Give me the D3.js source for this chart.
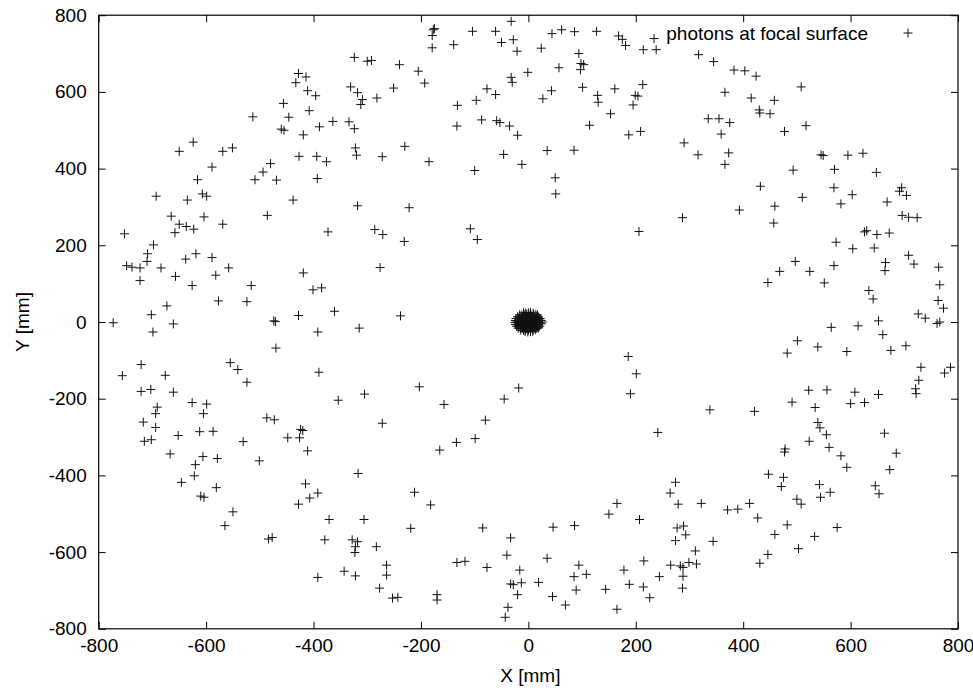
<!DOCTYPE html>
<html>
<head>
<meta charset="utf-8">
<script src="https://cdn.jsdelivr.net/npm/d3@7"></script>
<style>
  body { margin: 0; background: #fff; }
  svg text { font-family: "Liberation Sans", Arial, sans-serif; fill: #000; }
</style>
</head>
<body>
<svg id="plot" width="973" height="690"></svg>
<script>
// photons scattered onto the focal surface (ring), x / y in mm
const ringPoints = [
  [-428,648],[-414,639],[-433,624],[-411,603],[-456,570],[-408,551],[-446,534],[-513,535],[-460,503],[-455,500],
  [-419,488],[-427,432],[-624,469],[-650,445],[-569,445],[-551,454],[-589,404],[-480,413],[-494,391],[-509,371],
  [-469,370],[-616,371],[-607,334],[-599,328],[-693,328],[-635,318],[-438,318],[-665,276],[-604,274],[-486,278],
  [-396,590],[-394,432],[-393,374],[-389,509],[-364,523],[-334,522],[-324,504],[-331,613],[-318,598],[-309,580],
  [-312,567],[-282,584],[-251,610],[-324,690],[-300,680],[-292,682],[-240,671],[-205,654],[-193,623],[-177,762],
  [-175,765],[-179,747],[-179,715],[-139,723],[-104,758],[-61,758],[-32,784],[-50,729],[-28,736],[-21,706],
  [-1,651],[-32,638],[-30,625],[-77,608],[-61,593],[-97,578],[-132,565],[-133,511],[-87,527],[-59,525],
  [-53,520],[-35,511],[-20,487],[-230,458],[-322,454],[-320,435],[-376,418],[-272,431],[-185,418],[-46,437],
  [-12,411],[-100,395],[-318,303],[-222,298],
  [44,752],[62,762],[86,757],[127,758],[24,714],[57,663],[94,700],[98,674],[103,671],[97,658],
  [101,612],[43,603],[27,582],[129,591],[130,573],[161,608],[153,543],[114,513],[168,746],[175,737],
  [181,721],[214,710],[238,710],[234,739],[213,619],[199,591],[204,589],[195,566],[187,488],[209,497],
  [35,447],[85,448],[50,376],[51,334],[317,697],[345,679],[383,657],[403,655],[424,641],[366,599],
  [335,530],[355,530],[375,520],[359,490],[290,467],[316,436],[373,441],[366,411],[393,292],[287,272],
  [508,613],[415,584],[458,578],[430,553],[431,545],[450,543],[477,497],[517,512],[545,436],[549,434],
  [595,435],[623,440],[493,396],[570,398],[648,390],[432,354],[510,325],[459,302],[569,350],[603,332],
  [582,308],[668,313],[695,350],[691,341],[704,330],[696,278],[708,273],[724,272],
  [-650,255],[-637,249],[-623,242],[-658,233],[-569,255],[-752,230],[-698,201],[-709,178],[-710,158],[-748,147],
  [-738,143],[-723,141],[-723,108],[-684,141],[-657,119],[-638,164],[-619,178],[-589,168],[-558,141],[-582,122],
  [-626,95],[-516,95],[-577,55],[-524,53],[-673,42],[-702,19],[-661,-5],[-773,-2],[-699,-26],[-474,3],
  [-471,1],[-428,17],[-419,128],[-470,-68],[-721,-111],[-756,-140],[-676,-139],[-555,-106],[-541,-124],[-524,-157],
  [-721,-181],[-703,-176],[-661,-183],[-626,-210],[-599,-214],[-605,-239],[-691,-222],[-694,-239],[-717,-261],[-694,-275],
  [-487,-250],[-473,-255],
  [-401,84],[-385,89],[-373,235],[-286,241],[-271,228],[-231,210],[-108,243],[-95,215],[-276,142],[-361,28],
  [-238,16],[-315,-16],[-392,-26],[-390,-131],[-203,-169],[-305,-188],[-354,-204],[-157,-215],[-18,-172],[-45,-201],
  [-80,-256],[-272,-264],
  [206,236],[186,-90],[201,-135],[190,-187],[338,-229],
  [457,258],[626,235],[630,238],[649,228],[672,232],[573,208],[604,191],[644,193],[708,174],[718,151],
  [764,143],[766,97],[763,56],[773,36],[726,21],[739,10],[761,-4],[766,0],[665,155],[664,134],
  [634,82],[642,60],[497,158],[468,132],[524,132],[569,147],[446,103],[551,102],[652,3],[614,-10],
  [564,-14],[660,-33],[703,-62],[675,-74],[593,-77],[539,-65],[501,-49],[482,-81],[731,-118],[786,-118],
  [775,-133],[727,-152],[721,-174],[722,-187],[522,-178],[556,-177],[608,-183],[652,-189],[491,-209],[534,-223],
  [600,-213],[626,-210],[421,-233],[539,-262],
  [-715,-311],[-702,-307],[-652,-296],[-612,-286],[-587,-285],[-667,-344],[-606,-351],[-620,-372],[-579,-356],[-531,-312],
  [-501,-362],[-622,-401],[-646,-418],[-581,-432],[-610,-454],[-604,-457],[-550,-495],[-565,-531],[-484,-566],[-477,-562],
  [-448,-302],[-426,-302],[-424,-280],[-420,-283],[-411,-336],[-415,-422],[-407,-459],[-428,-475],
  [-165,-334],[-134,-314],[-99,-304],[-317,-395],[-392,-446],[-212,-444],[-182,-477],[-371,-515],[-306,-515],[-219,-538],
  [-85,-537],[-379,-568],[-328,-568],[-318,-573],[-322,-586],[-323,-601],[-283,-586],[-264,-634],[-264,-660],[-277,-694],
  [-253,-720],[-243,-718],[-392,-666],[-343,-650],[-322,-662],[-170,-711],[-170,-725],[-133,-627],[-118,-624],[-77,-640],
  [-33,-563],[-40,-608],[-16,-647],[-33,-683],[-28,-685],[-13,-680],[-20,-711],[-38,-744],[-43,-770],
  [241,-288],[274,-418],[264,-446],[279,-475],[322,-473],[371,-490],[390,-488],[165,-473],[150,-501],[207,-515],
  [46,-535],[86,-531],[277,-537],[289,-532],[293,-555],[274,-570],[344,-572],[311,-597],[35,-616],[94,-634],
  [85,-664],[108,-658],[19,-679],[89,-699],[45,-716],[69,-738],[144,-697],[165,-749],[178,-647],[188,-684],
  [215,-623],[214,-691],[226,-719],[244,-664],[265,-634],[283,-636],[288,-640],[299,-627],[313,-631],[288,-663],
  [287,-694],
  [543,-276],[555,-294],[523,-311],[560,-327],[478,-331],[477,-339],[582,-349],[593,-379],[663,-290],[685,-342],
  [673,-385],[447,-397],[475,-405],[471,-429],[542,-424],[544,-457],[562,-444],[646,-427],[653,-448],[500,-462],
  [508,-475],[412,-473],[427,-511],[482,-529],[459,-554],[575,-536],[533,-559],[503,-591],[446,-606],[431,-629]
];

// photons focused near the centre (the solid black spot)
const corePoints = [
  [-6,-25],[-1,-26],[4,-25],[8,-24],
  [-14,-21],[-9,-22],[-5,-21],[0,-21],[4,-22],[9,-21],[13,-20],
  [-19,-16],[-15,-17],[-11,-16],[-6,-16],[-2,-17],[3,-16],[7,-15],[12,-16],[16,-17],[19,-15],
  [-22,-11],[-18,-12],[-13,-11],[-9,-10],[-5,-11],[0,-12],[4,-11],[8,-10],[13,-11],[17,-12],[21,-11],
  [-24,-6],[-20,-7],[-15,-6],[-11,-5],[-7,-6],[-2,-7],[2,-6],[6,-5],[11,-6],[15,-7],[19,-6],[24,-5],
  [-25,-1],[-21,0],[-16,-1],[-12,-2],[-8,-1],[-3,0],[1,-1],[5,-2],[10,-1],[14,0],[18,-1],[22,-2],[26,0],
  [-24,4],[-20,3],[-15,5],[-11,4],[-6,3],[-2,4],[3,5],[7,4],[12,3],[16,4],[20,5],[24,4],
  [-23,9],[-18,10],[-14,9],[-10,8],[-5,9],[-1,10],[4,9],[8,8],[13,9],[17,10],[22,9],
  [-20,14],[-16,13],[-12,14],[-7,15],[-3,14],[2,13],[6,14],[10,15],[15,14],[19,13],
  [-16,19],[-12,18],[-8,19],[-3,20],[1,19],[5,18],[10,19],[14,20],[17,18],
  [-9,24],[-5,23],[0,24],[4,25],[9,23]
];

const xTicks = [-800, -600, -400, -200, 0, 200, 400, 600, 800];
const yTicks = [-800, -600, -400, -200, 0, 200, 400, 600, 800];
const legendLabel = "photons at focal surface";

const svg = d3.select("svg#plot");
const mLeft = 98.7, mRight = 958, mTop = 15.2, mBottom = 628.8;
const fontSize = 19;

const x = d3.scaleLinear().domain([-800, 800]).range([mLeft, mRight]);
const y = d3.scaleLinear().domain([-800, 800]).range([mBottom, mTop]);

const tick = 7;
const fmt = d => String(d); // plain hyphen minus like gnuplot

// bottom axis with labels
svg.append("g")
  .attr("transform", `translate(0,${mBottom})`)
  .call(d3.axisBottom(x).tickValues(xTicks).tickFormat(fmt).tickSizeInner(-tick).tickSizeOuter(0).tickPadding(10))
  .call(g => g.select(".domain").remove());

// left axis with labels
svg.append("g")
  .attr("transform", `translate(${mLeft},0)`)
  .call(d3.axisLeft(y).tickValues(yTicks).tickFormat(fmt).tickSizeInner(-tick).tickSizeOuter(0).tickPadding(12))
  .call(g => g.select(".domain").remove());

// mirrored ticks on top and right
svg.append("g")
  .attr("transform", `translate(0,${mTop})`)
  .call(d3.axisTop(x).tickValues(xTicks).tickSizeInner(-tick).tickSizeOuter(0).tickFormat(""))
  .call(g => g.select(".domain").remove());
svg.append("g")
  .attr("transform", `translate(${mRight},0)`)
  .call(d3.axisRight(y).tickValues(yTicks).tickSizeInner(-tick).tickSizeOuter(0).tickFormat(""))
  .call(g => g.select(".domain").remove());

svg.selectAll(".tick text").attr("font-size", fontSize).attr("font-family", null);
svg.selectAll(".tick line").attr("stroke", "#000");

// frame
svg.append("rect")
  .attr("x", mLeft).attr("y", mTop)
  .attr("width", mRight - mLeft).attr("height", mBottom - mTop)
  .attr("fill", "none").attr("stroke", "#000").attr("stroke-width", 1.2);

// axis titles
svg.append("text")
  .attr("x", (mLeft + mRight) / 2 + 2).attr("y", 682)
  .attr("text-anchor", "middle").attr("font-size", fontSize)
  .text("X [mm]");
svg.append("text")
  .attr("transform", `translate(29,${(mTop + mBottom) / 2}) rotate(-90)`)
  .attr("text-anchor", "middle").attr("font-size", fontSize)
  .text("Y [mm]");

const cross = "M-4.5,0H4.5M0,-4.5V4.5";

function plotPoints(pts, cls) {
  svg.append("g")
    .attr("class", cls)
    .selectAll("path")
    .data(pts)
    .enter()
    .append("path")
    .attr("transform", d => `translate(${x(d[0])},${y(d[1])})`)
    .attr("d", cross)
    .attr("stroke", "#111")
    .attr("stroke-width", 1)
    .attr("fill", "none");
}

plotPoints(ringPoints, "ring");
plotPoints(corePoints, "core");

// legend
svg.append("text")
  .attr("x", 868).attr("y", 33)
  .attr("dy", "0.35em")
  .attr("text-anchor", "end").attr("font-size", fontSize)
  .text(legendLabel);
svg.append("path")
  .attr("transform", "translate(908,33)")
  .attr("d", cross)
  .attr("stroke", "#111")
  .attr("fill", "none");
</script>
</body>
</html>
